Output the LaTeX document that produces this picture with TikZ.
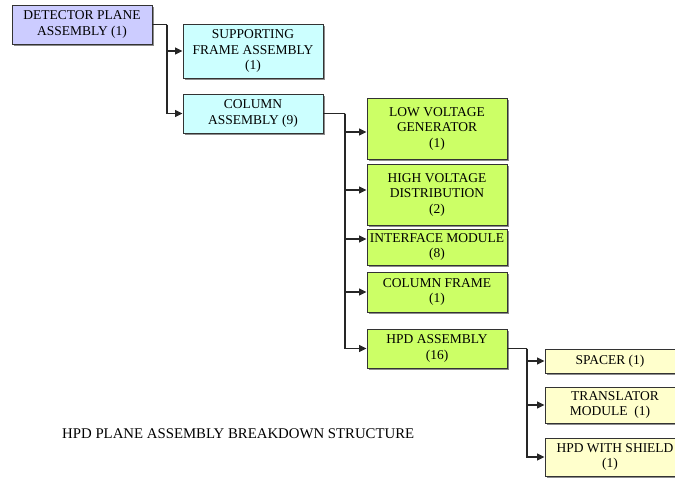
\documentclass[tikz,border=0pt]{standalone}
\usepackage{fontspec}
\setmainfont{Liberation Serif}
\usetikzlibrary{arrows.meta, shadows}

\tikzset{
  box/.style={draw=black!80, line width=0.9pt, minimum width=140pt, align=center,
    inner sep=1pt, font=\fontsize{13.5}{15.5}\selectfont,
    drop shadow={shadow xshift=1.6pt, shadow yshift=-1.6pt, fill=black!45, opacity=1}},
  conn/.style={draw=black!85, line width=1.2pt},
  arr/.style={conn, -{Triangle[length=7.5pt, width=7pt]}}
}

\begin{document}
\begin{tikzpicture}[x=1pt, y=-1pt]
    \useasboundingbox (0,0) rectangle (675,477);
    \clip (0,0) rectangle (675,477);

    \coordinate (bus1) at (167,24.5);
    \coordinate (bus2) at (345,113.5);
    \coordinate (bus3) at (527,348.5);

    \node[box, fill={rgb,255:red,204;green,204;blue,255}, minimum height=39pt] (dpa) at (82,24.5)
        {DETECTOR PLANE\\ASSEMBLY (1)};
    \node[box, fill={rgb,255:red,204;green,255;blue,255}, minimum height=54pt] (sfa) at (253,51)
        {SUPPORTING\\FRAME ASSEMBLY\\(1)};
    \node[box, fill={rgb,255:red,204;green,255;blue,255}, minimum height=39pt] (col) at (253,113.5)
        {COLUMN\\ASSEMBLY (9)};

    \node[box, fill={rgb,255:red,204;green,255;blue,102}, minimum height=61pt] (lvg) at (437,128.5)
        {LOW VOLTAGE\\GENERATOR\\(1)};
    \node[box, fill={rgb,255:red,204;green,255;blue,102}, minimum height=61pt] (hvd) at (437,194.5)
        {HIGH VOLTAGE\\DISTRIBUTION\\(2)};
    \node[box, fill={rgb,255:red,204;green,255;blue,102}, minimum height=36pt] (ifm) at (437,247)
        {INTERFACE MODULE\\(8)};
    \node[box, fill={rgb,255:red,204;green,255;blue,102}, minimum height=40pt] (clf) at (437,292)
        {COLUMN FRAME\\(1)};
    \node[box, fill={rgb,255:red,204;green,255;blue,102}, minimum height=39pt] (hpd) at (437,348.5)
        {HPD ASSEMBLY\\(16)};

    \node[box, fill={rgb,255:red,255;green,255;blue,204}, minimum height=24pt] (spc) at (615,361)
        {SPACER (1)\hspace*{10pt}};
    \node[box, fill={rgb,255:red,255;green,255;blue,204}, minimum height=36pt] (trm) at (615,405)
        {TRANSLATOR\\MODULE~ (1)\hspace*{10pt}};
    \node[box, fill={rgb,255:red,255;green,255;blue,204}, minimum height=38pt] (hws) at (615,457)
        {HPD WITH SHIELD\\(1)\hspace*{10pt}};

    % connectors
    \draw[conn] (dpa.east) -- (bus1);
    \draw[arr] (bus1) |- (sfa.west);
    \draw[arr] (bus1) |- (col.west);

    \draw[conn] (col.east) -- (bus2);
    \draw[arr] (bus2) |- ([yshift=-3.5pt]lvg.west);
    \draw[arr] (bus2) |- ([yshift=4.5pt]hvd.west);
    \draw[arr] (bus2) |- ([yshift=8pt]ifm.west);
    \draw[arr] (bus2) |- (clf.west);
    \draw[arr] (bus2) |- (hpd.west);

    \draw[conn] (hpd.east) -- (bus3);
    \foreach \n in {spc, trm, hws}
        \draw[arr] (bus3) |- (\n.west);

    \node[anchor=west, font=\fontsize{14.8}{17}\selectfont, inner sep=0pt] (title) at (62,434)
        {HPD PLANE ASSEMBLY BREAKDOWN STRUCTURE};
\end{tikzpicture}
\end{document}
